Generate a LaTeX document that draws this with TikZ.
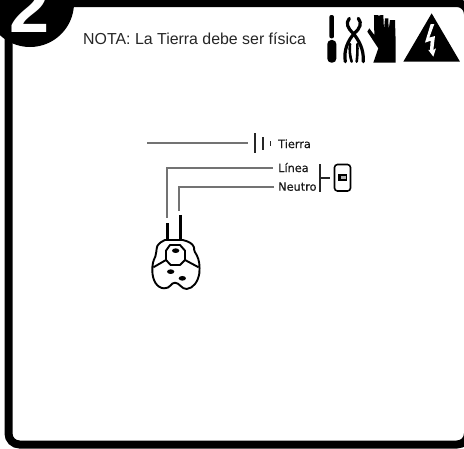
\documentclass[tikz,border=0pt]{standalone}
\usepackage{fontspec}
\setmainfont{Liberation Sans}
\newfontfamily\labelfont[FakeBold=0.5]{DejaVu Sans}
\tikzset{
  frameline/.style={line width=8pt,rounded corners=11pt},
  wire/.style={draw=black!55,line width=2pt},
  prong/.style={line width=2.8pt},
  plugline/.style={line width=1.9pt,line join=round},
  symline/.style={line width=1.5pt,draw=black!85},
  lbl/.style={font=\labelfont\fontsize{11.3}{12}\selectfont,inner sep=0pt,anchor=base west,text=black!90},
  icon/.style={fill=black,draw=none}
}
\begin{document}
\begin{tikzpicture}[x=1pt,y=-1pt]
\useasboundingbox (0,0) rectangle (464,448);
\clip (0,0) rectangle (464,448);
\fill[white] (0,0) rectangle (464,448);
\draw[frameline] (8.5,3) rectangle (468,444.5);
\fill (30,3) circle[radius=44];
\node[font=\bfseries\fontsize{72}{72}\selectfont,text=white,inner sep=0pt,anchor=base west] (num) at (9,32.5) {2};
\node[font=\fontsize{15.9}{18}\selectfont,inner sep=0pt,anchor=base west,text=black!85] (nota) at (83,44.5) {NOTA: La Tierra debe ser física};
% tools icons
\begin{scope}[shift={(310,0)},x=0.3333pt,y=-0.3333pt]
 \fill[icon,rounded corners=2pt] (58,45) rectangle (72,115);
 \fill[icon,rounded corners=4pt] (52,120) rectangle (79,188);
 % pliers
 \draw[line width=3.2pt,line cap=round,line join=round] (118,55) .. controls (106,70) and (113,85) .. (130,100) .. controls (145,120) and (162,145) .. (160,185);
 \draw[line width=3.2pt,line cap=round,line join=round] (145,55) .. controls (157,70) and (150,85) .. (133,100) .. controls (115,120) and (100,150) .. (106,185);
 \draw[line width=2.6pt,line cap=round] (120,132) .. controls (118,150) and (120,170) .. (125,185);
 \draw[line width=2.6pt,line cap=round] (142,132) .. controls (143,150) and (142,170) .. (140,185);
 % glove
 \fill[icon] (192,45) -- (205,45) -- (205,48) -- (213,45) -- (220,45) -- (222,90) -- (225,55) -- (235,55) -- (236,90) -- (240,60) -- (255,60) -- (257,125) -- (257,188) -- (190,188) -- (205,145) -- (172,95) -- (178,85) -- (193,105) -- cycle;
 % warning
 \fill[icon] (365,40) -- (450,185) -- (280,185) -- cycle;
 \fill[white] (362,72) -- (373,72) -- (358,113) -- (375,108) -- (370,150) -- (378,145) -- (370,170) -- (355,150) -- (360,150) -- (362,122) -- (345,128) -- cycle;
\end{scope}
% ground symbol
\coordinate (gs) at (147,143);
\coordinate (ga) at (248,143);
\draw[wire] (gs) -- (ga);
\draw[symline] (255,133) -- (255,153);
\draw[symline] (263,137) -- (263,150);
\draw[symline] (270.5,141) -- (270.5,146);
\node[lbl] (tierra) at (278,148) {Tierra};
\node[lbl] (linea) at (278,172) {Línea};
\node[lbl] (neutro) at (278,190.7) {Neutro};
\coordinate (la) at (272.7,168.3);
\coordinate (na) at (274,186.7);
\coordinate (p1) at (166.7,218);
\coordinate (p2) at (179.3,211);
\draw[wire] (la) -| (p1);
\draw[wire] (na) -| (p2);
\coordinate (bt) at (320,164);
\coordinate (bb) at (320,192);
\coordinate (bm) at (320,178);
\coordinate (bk) at (330,178);
\draw[symline] (bt) -- (bb);
\draw[symline] (bm) -- (bk);
\draw[line width=1.6pt,rounded corners=3pt] (334.5,164.5) rectangle (350.5,191);
\fill (337.5,174) rectangle (347,181);
\fill[black!30] (341,176) rectangle (345.5,179);
% plug
\begin{scope}[shift={(130,160)},x=0.3333pt,y=-0.3333pt]
 \draw[prong] (112,190) -- (112,240);
 \draw[prong] (152,165) -- (152,240);
 \draw[plugline] (105,240) -- (158,240) .. controls (175,244) and (188,250) .. (192,262) .. controls (192,275) and (196,278) .. (200,285) .. controls (208,300) and (210,318) .. (208,340) .. controls (204,365) and (190,385) .. (170,387) .. controls (155,388) and (148,368) .. (135,368) .. controls (122,368) and (122,386) .. (102,385) .. controls (80,384) and (68,360) .. (67,335) .. controls (66,315) and (70,300) .. (76,290) .. controls (80,280) and (78,270) .. (82,258) .. controls (88,248) and (98,243) .. (105,240) -- cycle;
 \draw[plugline] (120,255) -- (150,255) -- (165,272) -- (165,300) -- (150,315) -- (122,315) -- (108,300) -- (108,272) -- cycle;
 \draw[plugline] (70,322) -- (108,300);
 \draw[plugline] (165,300) -- (206,322);
 \fill (137,272) ellipse[x radius=11,y radius=7];
 \fill (122,335) ellipse[x radius=11,y radius=7];
 \fill (157,355) ellipse[x radius=11,y radius=7];
\end{scope}
\end{tikzpicture}
\end{document}
